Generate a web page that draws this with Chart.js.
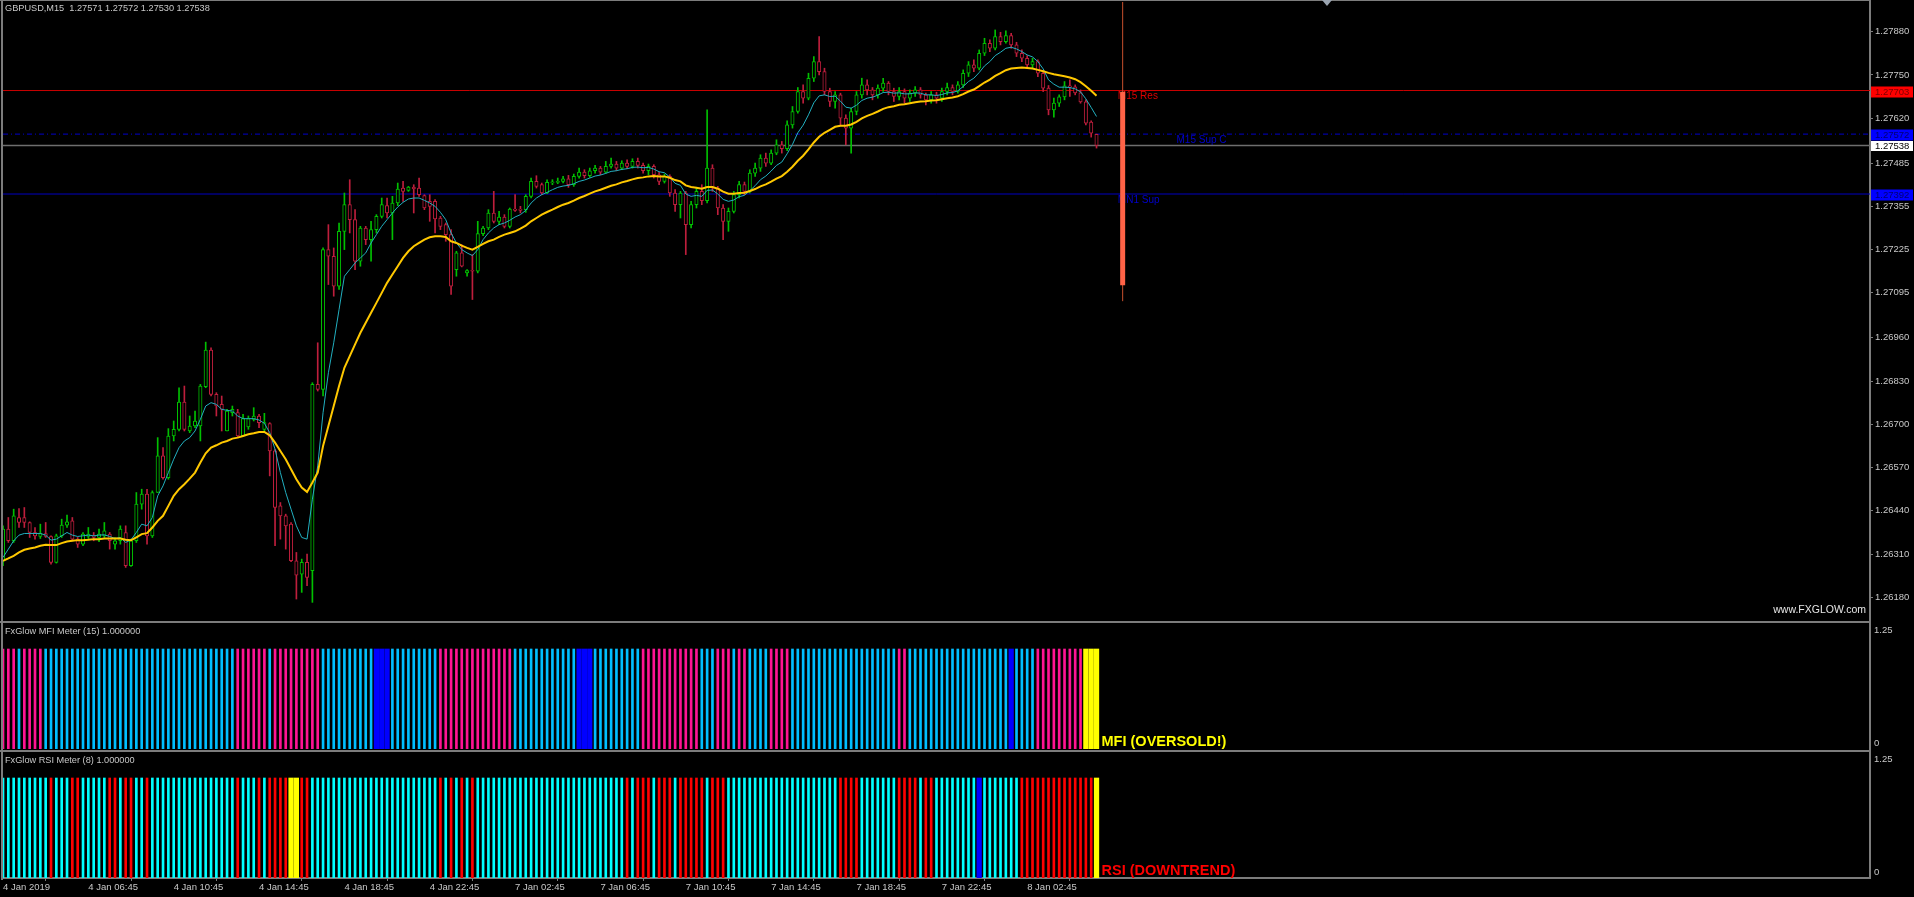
<!doctype html>
<html lang="en">
<head>
<meta charset="utf-8" />
<title>GBPUSD,M15</title>
<script src="https://cdn.jsdelivr.net/npm/chart.js@4.4.3/dist/chart.umd.min.js"></script>
<style>
  html, body { margin: 0; padding: 0; background: #000; overflow: hidden; }
  #wrap { position: relative; width: 1914px; height: 897px; background: #000; font-family: "Liberation Sans", Arial, sans-serif; }
  canvas { position: absolute; left: 0; }
  .txt { position: absolute; color: #c8c8c8; font-size: 9.2px; line-height: 10px; white-space: pre; }
  .rule { position: absolute; background: #7c7c7c; }
  #shift { position: absolute; left: 1322px; top: 0; width: 0; height: 0;
    border-left: 5px solid transparent; border-right: 5px solid transparent; border-top: 6px solid #9aa4b0; }
</style>
</head>
<body>
<div id="wrap">
  <canvas id="main" width="1914" height="621" style="top:0"></canvas>
  <canvas id="mfi" width="1914" height="127" style="top:623px"></canvas>
  <canvas id="rsi" width="1914" height="145" style="top:752px"></canvas>
  <div class="rule" style="left:0;top:0;width:1871px;height:1px"></div>
  <div class="rule" style="left:1px;top:0;width:2px;height:880px"></div>
  <div class="rule" style="left:0;top:621px;width:1871px;height:2px"></div>
  <div class="rule" style="left:0;top:750px;width:1871px;height:2px"></div>
  <div id="shift"></div>
  <div class="txt" id="mainTitle" style="left:5px;top:3px"></div>
  <div class="txt" style="left:5px;top:626px">FxGlow MFI Meter (15) 1.000000</div>
  <div class="txt" style="left:5px;top:755px">FxGlow RSI Meter (8) 1.000000</div>
  <div class="txt" style="right:48px;top:604px;color:#e6e6e6;font-size:10.5px">www.FXGLOW.com</div>
</div>
<script>
// ---- data (GBPUSD M15, 4 Jan 2019 02:45 .. 8 Jan 2019 06:00) ----
const symbolName = "GBPUSD,M15";

const openP = [
  1.26290,1.26385,1.26350,1.26420,1.26420,1.26405,1.26375,1.26363,1.26372,1.26363,
  1.26285,1.26365,1.26397,1.26410,1.26355,1.26340,1.26363,1.26365,1.26360,1.26365,
  1.26370,1.26340,1.26350,1.26375,1.26275,1.26350,1.26460,1.26490,1.26365,1.26495,
  1.26605,1.26540,1.26665,1.26685,1.26767,1.26680,1.26695,1.26695,1.26813,1.26923,
  1.26790,1.26760,1.26680,1.26735,1.26735,1.26665,1.26692,1.26715,1.26725,1.26685,
  1.26702,1.26620,1.26455,1.26425,1.26400,1.26290,1.26250,1.26285,1.26260,1.26820,
  1.26805,1.27225,1.27205,1.27115,1.27280,1.27360,1.27315,1.27190,1.27290,1.27255,
  1.27285,1.27325,1.27357,1.27335,1.27365,1.27410,1.27403,1.27413,1.27410,1.27387,
  1.27370,1.27370,1.27320,1.27300,1.27270,1.27165,1.27215,1.27155,1.27162,1.27160,
  1.27273,1.27290,1.27335,1.27310,1.27323,1.27295,1.27347,1.27347,1.27345,1.27385,
  1.27430,1.27420,1.27395,1.27425,1.27427,1.27430,1.27438,1.27420,1.27445,1.27458,
  1.27447,1.27462,1.27470,1.27458,1.27475,1.27482,1.27470,1.27485,1.27475,1.27490,
  1.27478,1.27462,1.27475,1.27450,1.27430,1.27445,1.27395,1.27360,1.27395,1.27300,
  1.27360,1.27400,1.27372,1.27470,1.27410,1.27350,1.27310,1.27340,1.27390,1.27420,
  1.27400,1.27455,1.27470,1.27500,1.27485,1.27515,1.27540,1.27528,1.27600,1.27640,
  1.27700,1.27680,1.27740,1.27790,1.27760,1.27700,1.27670,1.27690,1.27620,1.27590,
  1.27640,1.27690,1.27720,1.27705,1.27690,1.27710,1.27725,1.27700,1.27685,1.27700,
  1.27680,1.27695,1.27705,1.27690,1.27675,1.27690,1.27680,1.27700,1.27712,1.27700,
  1.27720,1.27755,1.27780,1.27770,1.27815,1.27845,1.27830,1.27865,1.27850,1.27868,
  1.27840,1.27815,1.27800,1.27780,1.27790,1.27755,1.27710,1.27645,1.27665,1.27684,
  1.27717,1.27714,1.27696,1.27669,1.27608,1.27571
];
const highP = [
  1.26395,1.26420,1.26445,1.26447,1.26450,1.26407,1.26390,1.26400,1.26405,1.26365,
  1.26370,1.26415,1.26427,1.26420,1.26360,1.26375,1.26390,1.26375,1.26385,1.26405,
  1.26375,1.26360,1.26395,1.26395,1.26355,1.26495,1.26505,1.26505,1.26500,1.26660,
  1.26630,1.26687,1.26710,1.26810,1.26815,1.26725,1.26740,1.26820,1.26947,1.26930,
  1.26795,1.26785,1.26745,1.26755,1.26745,1.26730,1.26725,1.26750,1.26730,1.26733,
  1.26705,1.26625,1.26465,1.26430,1.26405,1.26315,1.26295,1.26310,1.26825,1.26945,
  1.27230,1.27300,1.27230,1.27305,1.27395,1.27435,1.27345,1.27295,1.27295,1.27310,
  1.27330,1.27380,1.27380,1.27385,1.27425,1.27430,1.27415,1.27420,1.27440,1.27390,
  1.27390,1.27375,1.27325,1.27305,1.27285,1.27220,1.27240,1.27165,1.27210,1.27310,
  1.27295,1.27345,1.27400,1.27340,1.27330,1.27350,1.27390,1.27355,1.27390,1.27440,
  1.27447,1.27425,1.27435,1.27435,1.27440,1.27445,1.27448,1.27452,1.27470,1.27465,
  1.27470,1.27478,1.27475,1.27490,1.27500,1.27490,1.27492,1.27495,1.27498,1.27500,
  1.27485,1.27482,1.27480,1.27458,1.27452,1.27450,1.27405,1.27400,1.27400,1.27370,
  1.27410,1.27420,1.27645,1.27480,1.27415,1.27360,1.27350,1.27400,1.27430,1.27428,
  1.27465,1.27485,1.27510,1.27515,1.27525,1.27555,1.27550,1.27612,1.27655,1.27712,
  1.27720,1.27755,1.27805,1.27865,1.27770,1.27710,1.27700,1.27695,1.27630,1.27650,
  1.27700,1.27740,1.27735,1.27712,1.27720,1.27740,1.27730,1.27710,1.27712,1.27708,
  1.27705,1.27715,1.27712,1.27695,1.27700,1.27698,1.27710,1.27725,1.27720,1.27730,
  1.27765,1.27790,1.27795,1.27825,1.27860,1.27855,1.27885,1.27878,1.27882,1.27875,
  1.27848,1.27825,1.27808,1.27800,1.27795,1.27762,1.27718,1.27680,1.27690,1.27730,
  1.27735,1.27720,1.27705,1.27675,1.27612,1.27572
];
const lowP = [
  1.26275,1.26345,1.26345,1.26390,1.26390,1.26360,1.26355,1.26357,1.26360,1.26280,
  1.26283,1.26360,1.26390,1.26350,1.26330,1.26335,1.26357,1.26350,1.26347,1.26360,
  1.26325,1.26325,1.26340,1.26270,1.26273,1.26345,1.26445,1.26340,1.26360,1.26495,
  1.26535,1.26535,1.26650,1.26680,1.26680,1.26675,1.26690,1.26650,1.26810,1.26785,
  1.26725,1.26680,1.26680,1.26725,1.26660,1.26665,1.26685,1.26710,1.26690,1.26680,
  1.26545,1.26335,1.26355,1.26325,1.26287,1.26175,1.26195,1.26215,1.26165,1.26800,
  1.26785,1.27120,1.27085,1.27105,1.27225,1.27275,1.27165,1.27175,1.27240,1.27190,
  1.27275,1.27320,1.27320,1.27255,1.27357,1.27370,1.27400,1.27335,1.27385,1.27345,
  1.27310,1.27275,1.27285,1.27250,1.27090,1.27145,1.27173,1.27145,1.27075,1.27155,
  1.27267,1.27285,1.27305,1.27300,1.27290,1.27290,1.27340,1.27335,1.27337,1.27380,
  1.27410,1.27390,1.27393,1.27420,1.27423,1.27425,1.27412,1.27415,1.27440,1.27440,
  1.27442,1.27455,1.27450,1.27455,1.27470,1.27462,1.27465,1.27468,1.27470,1.27470,
  1.27455,1.27450,1.27440,1.27420,1.27425,1.27385,1.27340,1.27320,1.27210,1.27290,
  1.27350,1.27360,1.27365,1.27400,1.27330,1.27255,1.27280,1.27335,1.27380,1.27390,
  1.27395,1.27445,1.27460,1.27475,1.27480,1.27510,1.27515,1.27522,1.27590,1.27635,
  1.27665,1.27675,1.27730,1.27750,1.27690,1.27655,1.27650,1.27600,1.27540,1.27515,
  1.27630,1.27680,1.27690,1.27675,1.27680,1.27700,1.27690,1.27670,1.27675,1.27665,
  1.27670,1.27685,1.27680,1.27660,1.27665,1.27665,1.27670,1.27690,1.27690,1.27695,
  1.27712,1.27745,1.27760,1.27765,1.27808,1.27820,1.27825,1.27840,1.27845,1.27830,
  1.27805,1.27790,1.27770,1.27770,1.27745,1.27700,1.27630,1.27623,1.27655,1.27675,
  1.27685,1.27690,1.27665,1.27600,1.27563,1.27530
];
const closeP = [
  1.26385,1.26350,1.26425,1.26405,1.26405,1.26375,1.26365,1.26372,1.26363,1.26285,
  1.26365,1.26397,1.26407,1.26355,1.26340,1.26370,1.26370,1.26360,1.26370,1.26380,
  1.26350,1.26350,1.26385,1.26275,1.26350,1.26460,1.26490,1.26365,1.26495,1.26605,
  1.26540,1.26665,1.26685,1.26767,1.26685,1.26695,1.26710,1.26815,1.26923,1.26790,
  1.26755,1.26745,1.26740,1.26745,1.26665,1.26717,1.26717,1.26725,1.26705,1.26705,
  1.26620,1.26450,1.26425,1.26395,1.26290,1.26247,1.26285,1.26240,1.26820,1.26805,
  1.27225,1.27205,1.27115,1.27280,1.27360,1.27315,1.27190,1.27290,1.27255,1.27285,
  1.27325,1.27360,1.27335,1.27365,1.27407,1.27400,1.27413,1.27407,1.27390,1.27350,
  1.27355,1.27317,1.27295,1.27270,1.27115,1.27215,1.27175,1.27162,1.27160,1.27273,
  1.27290,1.27335,1.27310,1.27323,1.27295,1.27347,1.27343,1.27343,1.27385,1.27430,
  1.27415,1.27395,1.27427,1.27429,1.27430,1.27438,1.27420,1.27445,1.27458,1.27447,
  1.27462,1.27470,1.27458,1.27475,1.27482,1.27470,1.27485,1.27475,1.27490,1.27478,
  1.27462,1.27475,1.27450,1.27430,1.27445,1.27395,1.27360,1.27395,1.27300,1.27360,
  1.27400,1.27372,1.27470,1.27410,1.27350,1.27310,1.27340,1.27390,1.27420,1.27400,
  1.27455,1.27470,1.27500,1.27485,1.27515,1.27540,1.27528,1.27600,1.27640,1.27700,
  1.27680,1.27740,1.27790,1.27760,1.27700,1.27670,1.27690,1.27620,1.27590,1.27640,
  1.27690,1.27720,1.27705,1.27690,1.27710,1.27725,1.27700,1.27685,1.27700,1.27680,
  1.27695,1.27705,1.27690,1.27675,1.27690,1.27680,1.27700,1.27712,1.27700,1.27720,
  1.27755,1.27780,1.27770,1.27815,1.27845,1.27830,1.27865,1.27850,1.27868,1.27840,
  1.27815,1.27800,1.27780,1.27790,1.27755,1.27710,1.27645,1.27665,1.27684,1.27717,
  1.27714,1.27696,1.27669,1.27605,1.27575,1.27538
];

// fast (cyan) and slow (yellow) moving averages as drawn
const maFast = [
  1.26300,1.26325,1.26350,1.26367,1.26372,1.26372,1.26372,1.26372,1.26367,1.26352,
  1.26355,1.26365,1.26375,1.26367,1.26363,1.26365,1.26367,1.26365,1.26367,1.26368,
  1.26363,1.26357,1.26360,1.26345,1.26353,1.26375,1.26400,1.26395,1.26420,1.26485,
  1.26515,1.26555,1.26595,1.26630,1.26650,1.26660,1.26680,1.26715,1.26755,1.26765,
  1.26760,1.26745,1.26742,1.26740,1.26725,1.26717,1.26717,1.26717,1.26713,1.26703,
  1.26675,1.26625,1.26555,1.26495,1.26445,1.26395,1.26360,1.26355,1.26475,1.26575,
  1.26735,1.26855,1.26945,1.27045,1.27145,1.27165,1.27185,1.27200,1.27215,1.27245,
  1.27270,1.27295,1.27315,1.27335,1.27353,1.27367,1.27377,1.27380,1.27380,1.27373,
  1.27365,1.27355,1.27337,1.27315,1.27275,1.27245,1.27225,1.27215,1.27207,1.27225,
  1.27255,1.27275,1.27290,1.27300,1.27305,1.27313,1.27323,1.27330,1.27343,1.27365,
  1.27380,1.27390,1.27397,1.27405,1.27412,1.27416,1.27418,1.27423,1.27430,1.27434,
  1.27440,1.27446,1.27449,1.27454,1.27460,1.27462,1.27466,1.27468,1.27472,1.27473,
  1.27471,1.27472,1.27467,1.27459,1.27456,1.27443,1.27424,1.27418,1.27392,1.27385,
  1.27388,1.27385,1.27403,1.27404,1.27392,1.27376,1.27370,1.27374,1.27384,1.27388,
  1.27402,1.27417,1.27435,1.27446,1.27461,1.27478,1.27488,1.27513,1.27541,1.27576,
  1.27599,1.27630,1.27666,1.27687,1.27690,1.27685,1.27686,1.27671,1.27653,1.27650,
  1.27659,1.27673,1.27680,1.27683,1.27689,1.27697,1.27698,1.27695,1.27696,1.27693,
  1.27693,1.27696,1.27695,1.27690,1.27690,1.27688,1.27691,1.27696,1.27697,1.27702,
  1.27715,1.27730,1.27740,1.27757,1.27777,1.27790,1.27808,1.27818,1.27830,1.27833,
  1.27828,1.27820,1.27810,1.27804,1.27790,1.27768,1.27735,1.27722,1.27713,1.27713,
  1.27712,1.27708,1.27699,1.27678,1.27652,1.27625
];
const maSlow = [
  1.26290,1.26297,1.26305,1.26315,1.26323,1.26327,1.26330,1.26335,1.26338,1.26337,
  1.26337,1.26343,1.26348,1.26350,1.26352,1.26352,1.26353,1.26355,1.26355,1.26357,
  1.26357,1.26357,1.26357,1.26353,1.26352,1.26360,1.26370,1.26373,1.26390,1.26410,
  1.26425,1.26455,1.26485,1.26505,1.26520,1.26537,1.26555,1.26585,1.26613,1.26630,
  1.26637,1.26645,1.26650,1.26657,1.26660,1.26665,1.26670,1.26673,1.26677,1.26677,
  1.26667,1.26645,1.26620,1.26595,1.26565,1.26535,1.26510,1.26497,1.26525,1.26555,
  1.26635,1.26695,1.26755,1.26815,1.26870,1.26905,1.26940,1.26975,1.27005,1.27035,
  1.27065,1.27095,1.27125,1.27150,1.27175,1.27200,1.27220,1.27235,1.27245,1.27255,
  1.27262,1.27265,1.27265,1.27263,1.27250,1.27245,1.27237,1.27230,1.27225,1.27233,
  1.27242,1.27250,1.27255,1.27263,1.27270,1.27275,1.27280,1.27288,1.27297,1.27310,
  1.27320,1.27330,1.27338,1.27345,1.27353,1.27360,1.27365,1.27372,1.27380,1.27386,
  1.27393,1.27400,1.27405,1.27411,1.27417,1.27421,1.27427,1.27431,1.27436,1.27440,
  1.27442,1.27445,1.27446,1.27445,1.27445,1.27441,1.27434,1.27430,1.27418,1.27413,
  1.27411,1.27408,1.27413,1.27413,1.27408,1.27399,1.27393,1.27393,1.27395,1.27396,
  1.27401,1.27407,1.27415,1.27421,1.27429,1.27438,1.27446,1.27459,1.27474,1.27492,
  1.27507,1.27526,1.27547,1.27564,1.27576,1.27585,1.27594,1.27597,1.27597,1.27601,
  1.27609,1.27619,1.27627,1.27633,1.27640,1.27648,1.27653,1.27656,1.27660,1.27662,
  1.27665,1.27668,1.27670,1.27671,1.27673,1.27674,1.27677,1.27680,1.27682,1.27686,
  1.27692,1.27700,1.27706,1.27716,1.27727,1.27736,1.27747,1.27755,1.27764,1.27769,
  1.27771,1.27772,1.27771,1.27769,1.27765,1.27761,1.27756,1.27752,1.27749,1.27746,
  1.27742,1.27737,1.27728,1.27716,1.27702,1.27687
];

// MFI meter: P pink, B light blue, D blue, Y yellow (runs of bars)
const mfiRuns = [
  ["P",3],["B",1],["P",4],["B",36],["P",6],["B",1],["P",9],["B",10],["D",3],["B",9],
  ["P",14],["B",12],["D",3],["B",9],["P",11],["B",3],["P",3],["B",1],["P",2],["B",4],
  ["P",4],["B",20],["P",2],["B",19],["D",1],["B",4],["P",9],["Y",3]
];
// RSI meter: C cyan, R red, D blue, Y yellow
const rsiRuns = [
  ["C",9],["R",1],["C",3],["R",2],["C",5],["R",2],["C",1],["R",2],["C",2],["R",1],
  ["C",16],["R",1],["C",3],["R",1],["C",1],["R",4],["Y",2],["R",2],["C",24],["R",1],
  ["C",1],["R",1],["C",1],["R",1],["C",1],["R",1],["C",28],["R",1],["C",1],["R",3],
  ["C",1],["R",3],["C",1],["R",5],["C",1],["R",3],["C",1],["C",20],["R",4],["C",7],
  ["R",4],["C",1],["R",2],["C",8],["D",1],["C",7],["R",14],["Y",1]
];
const meterStatus = ["MFI (OVERSOLD!)", "RSI (DOWNTREND)"];
const meterTicks = [1.25, 0];

// support / resistance levels
const levelNames = ["M15 Res", "M15 Sup C", "MN1 Sup"];
const levelPrices = [1.27703, 1.27572, 1.27392];
const levelLabelAt = [209, 220, 209];
const bidPrice = 1.27538;
const rangeBar = [1.27118, 1.27699];
const rangeLine = [1.27070, 1.27969];
const rangeAt = 209.9;

// axes
const priceTicks = [1.27880, 1.27750, 1.27620, 1.27485, 1.27355, 1.27225, 1.27095,
  1.26960, 1.26830, 1.26700, 1.26570, 1.26440, 1.26310, 1.26180];
const timeTicks = ["4 Jan 2019", "4 Jan 06:45", "4 Jan 10:45", "4 Jan 14:45", "4 Jan 18:45",
  "4 Jan 22:45", "7 Jan 02:45", "7 Jan 06:45", "7 Jan 10:45", "7 Jan 14:45", "7 Jan 18:45",
  "7 Jan 22:45", "8 Jan 02:45"];
const timeTickAt = [0, 16, 32, 48, 64, 80, 96, 112, 128, 144, 160, 176, 192];

// ---- styles ----
const FONT = '"Liberation Sans", Arial, sans-serif';
const AXIS_TXT = "#c8c8c8";
const AXIS_LINE = "#7c7c7c";
const BULL = "#00c000";
const BEAR = "#be1e3c";
const MFI_COLORS = { P: "#ff1493", B: "#00bfff", D: "#0000ff", Y: "#ffff00" };
const RSI_COLORS = { C: "#00ffff", R: "#ff0000", D: "#0000ff", Y: "#ffff00" };
const LEVEL_LINE = ["#c80000", "#0000c8", "#0000c0"];
const LEVEL_DASH = [[], [5, 3, 1, 3], []];
const LEVEL_TEXT = ["#dd0000", "#0000cc", "#0000cc"];
const TAG_BG = ["#ff0000", "#0000ff", "#0000ff"];
const TAG_FG = ["#7a0000", "#000070", "#000070"];
const X_MAX = 350;

const last = closeP.length - 1;
document.getElementById("mainTitle").textContent =
  `${symbolName}  ${openP[last].toFixed(5)} ${highP[last].toFixed(5)} ${lowP[last].toFixed(5)} ${closeP[last].toFixed(5)}`;

function expandRuns(runs) {
  const out = [];
  for (const [s, n] of runs) for (let k = 0; k < n; k += 1) out.push(s);
  return out;
}

// chart.js reserves half a label of room at the ends of an axis; MT4 does not
function noEdgePadding(s) {
  s.paddingTop = 0;
  s.paddingBottom = 0;
  s.paddingLeft = 0;
  s.paddingRight = 0;
}

function xScale(extra) {
  return Object.assign({
    type: "linear", min: 0, max: X_MAX, offset: false, display: false,
  }, extra || {});
}

function sideAxis(extra) {
  return Object.assign({
    position: "right",
    afterFit: (s) => { s.width = 44; noEdgePadding(s); },
    ticks: { display: false },
    grid: { display: false },
    border: { display: true, color: AXIS_LINE, width: 2 },
  }, extra);
}

const baseOptions = {
  responsive: false,
  animation: false,
  events: [],
  plugins: { legend: { display: false }, tooltip: { enabled: false } },
};

// ---- main price chart ----
const candleColor = closeP.map((c, i) => (c >= openP[i] ? BULL : BEAR));
const bodies = closeP.map((c, i) => ({ x: i, y: [openP[i], c] }));
const wicks = closeP.map((c, i) => ({ x: i, y: [lowP[i], highP[i]] }));
const fastPts = maFast.map((v, i) => ({ x: i, y: v }));
const slowPts = maSlow.map((v, i) => ({ x: i, y: v }));

const levelSets = levelPrices.map((p, k) => ({
  type: "line",
  data: [{ x: 0, y: p }, { x: X_MAX, y: p }],
  borderColor: LEVEL_LINE[k], borderWidth: 1, borderDash: LEVEL_DASH[k],
  pointRadius: 0,
}));

const levelPlugin = {
  id: "levels",
  beforeDatasetsDraw(chart) {
    const { ctx, scales: { x, y } } = chart;
    ctx.save();
    ctx.font = `10px ${FONT}`;
    ctx.textBaseline = "top";
    levelNames.forEach((name, k) => {
      ctx.fillStyle = LEVEL_TEXT[k];
      ctx.fillText(name, x.getPixelForValue(levelLabelAt[k]), y.getPixelForValue(levelPrices[k]) + 1);
    });
    ctx.restore();
  },
  afterDraw(chart) {
    const { ctx, chartArea, scales: { y } } = chart;
    const tags = levelPrices.map((p, k) => ({ p, bg: TAG_BG[k], fg: TAG_FG[k], h: 11 }));
    tags.push({ p: bidPrice, bg: "#ffffff", fg: "#000000", h: 10 });
    ctx.save();
    ctx.font = `9.5px ${FONT}`;
    ctx.textBaseline = "middle";
    for (const t of tags) {
      const py = Math.round(y.getPixelForValue(t.p)) + 1;
      ctx.fillStyle = t.bg;
      ctx.fillRect(chartArea.right + 1, py - t.h / 2, 42, t.h);
      ctx.fillStyle = t.fg;
      ctx.fillText(t.p.toFixed(5), chartArea.right + 5, py + 0.5);
    }
    ctx.restore();
  },
};

new Chart(document.getElementById("main"), {
  type: "bar",
  data: {
    datasets: [
      { type: "line", data: [{ x: rangeAt, y: rangeBar[0] }, { x: rangeAt, y: rangeBar[1] }],
        borderColor: "#ff6347", borderWidth: 5, pointRadius: 0 },
      { type: "line", data: [{ x: rangeAt, y: rangeLine[0] }, { x: rangeAt, y: rangeLine[1] }],
        borderColor: "#c8502d", borderWidth: 1, pointRadius: 0 },
      { type: "line", data: slowPts, borderColor: "#ffc800", borderWidth: 2, pointRadius: 0, tension: 0 },
      { type: "line", data: fastPts, borderColor: "#22b0c0", borderWidth: 1, pointRadius: 0, tension: 0 },
      { data: bodies, barThickness: 3.4, grouped: false, borderSkipped: false, minBarLength: 1,
        borderWidth: 1, borderColor: candleColor, backgroundColor: "#000000" },
      { data: wicks, barThickness: 1, grouped: false, borderWidth: 0, backgroundColor: candleColor },
      { type: "line", data: [{ x: 0, y: bidPrice }, { x: X_MAX, y: bidPrice }],
        borderColor: "#6e6e6e", borderWidth: 1.5, pointRadius: 0 },
      ...levelSets,
    ],
  },
  options: {
    ...baseOptions,
    layout: { padding: { left: 3, top: 2, bottom: 1, right: 0 } },
    scales: {
      x: xScale(),
      y: {
        position: "right", min: 1.26112, max: 1.27969,
        afterBuildTicks: (s) => { s.ticks = priceTicks.map((v) => ({ value: v })); },
        afterFit: (s) => { s.width = 44; noEdgePadding(s); },
        ticks: { callback: (v) => Number(v).toFixed(5), color: AXIS_TXT, font: { family: FONT, size: 9.5 }, padding: 2 },
        grid: { drawOnChartArea: false, drawTicks: true, tickLength: 3, color: AXIS_LINE },
        border: { display: true, color: AXIS_LINE, width: 2 },
      },
    },
  },
  plugins: [levelPlugin],
});

// ---- meter panels ----
function meterChart(canvasId, runs, colors, status, statusColor, withTime) {
  const state = expandRuns(runs);
  const isThick = (s) => s === "D" || s === "Y";
  const thin = state.map((s, i) => ({ x: i, y: isThick(s) ? null : 1 }));
  const thick = state.map((s, i) => ({ x: i, y: isThick(s) ? 1 : null }));
  const barColor = state.map((s) => colors[s]);

  const meterPlugin = {
    id: "meter-" + canvasId,
    afterDraw(chart) {
      const { ctx, chartArea, scales: { x, y } } = chart;
      ctx.save();
      ctx.fillStyle = AXIS_TXT;
      ctx.font = `9.5px ${FONT}`;
      meterTicks.forEach((v, k) => {
        ctx.textBaseline = k === 0 ? "top" : "bottom";
        ctx.fillText(String(v), chartArea.right + 4, y.getPixelForValue(v) + (k === 0 ? 2 : -1));
      });
      ctx.font = `bold 14.5px ${FONT}`;
      ctx.textBaseline = "alphabetic";
      ctx.fillStyle = statusColor;
      ctx.fillText(status, x.getPixelForValue(state.length - 1) + 5, y.getPixelForValue(0) - 3.5);
      ctx.restore();
    },
  };

  const xOpts = withTime ? xScale({
    display: true,
    afterBuildTicks: (s) => { s.ticks = timeTickAt.map((v) => ({ value: v })); },
    afterFit: (s) => { s.height = 19; noEdgePadding(s); },
    ticks: { callback: (v, i) => timeTicks[i], color: AXIS_TXT, font: { family: FONT, size: 9.5 },
      align: "start", padding: 1, maxRotation: 0, autoSkip: false },
    grid: { drawOnChartArea: false, drawTicks: true, tickLength: 3, color: AXIS_LINE },
    border: { display: true, color: AXIS_LINE, width: 2 },
  }) : xScale();

  new Chart(document.getElementById(canvasId), {
    type: "bar",
    data: {
      datasets: [
        { data: thick, barThickness: 4.6, grouped: false, backgroundColor: barColor, borderWidth: 0 },
        { data: thin, barThickness: 2, grouped: false, backgroundColor: barColor, borderWidth: 0 },
      ],
    },
    options: {
      ...baseOptions,
      layout: { padding: { left: 3, top: 1, bottom: withTime ? 0 : 1, right: 0 } },
      scales: { x: xOpts, y: sideAxis({ min: 0, max: 1.25 }) },
    },
    plugins: [meterPlugin],
  });
}

meterChart("mfi", mfiRuns, MFI_COLORS, meterStatus[0], "#ffff00", false);
meterChart("rsi", rsiRuns, RSI_COLORS, meterStatus[1], "#ff0000", true);
</script>
</body>
</html>
